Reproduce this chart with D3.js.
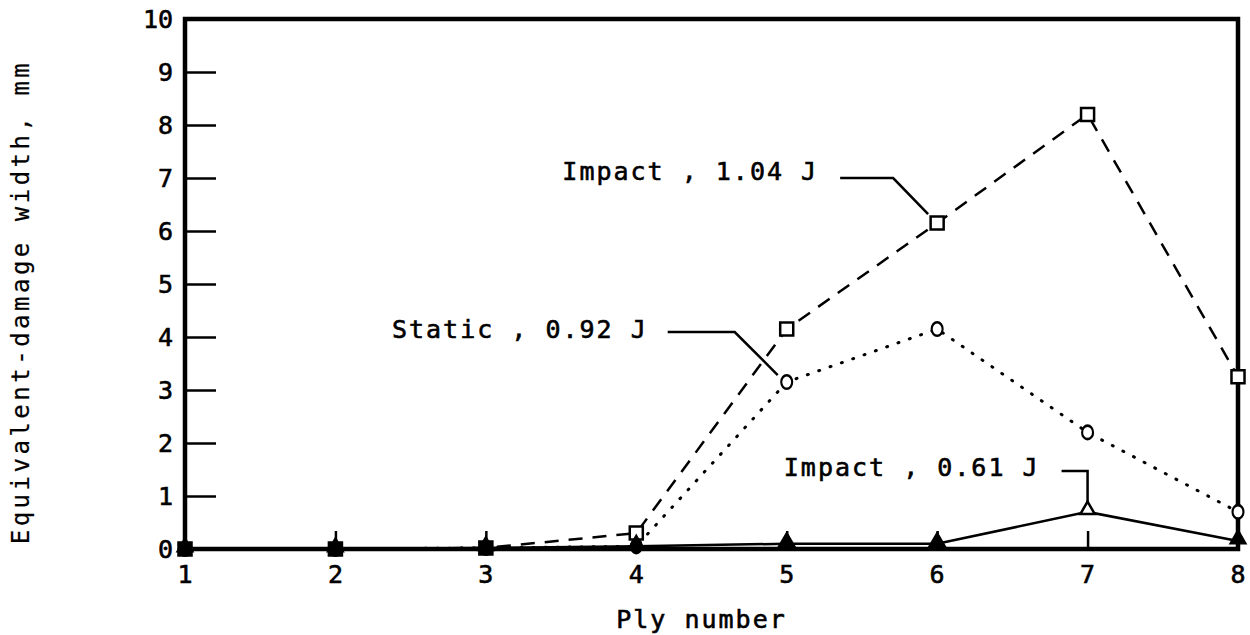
<!DOCTYPE html>
<html>
<head>
<meta charset="utf-8">
<script src="https://cdn.jsdelivr.net/npm/d3@7"></script>
<style>
  body { margin: 0; background: #fff; }
  text { font-family: "DejaVu Sans Mono", monospace; fill: #000; stroke: #000; stroke-width: 0.6px; }
</style>
</head>
<body>
<svg id="chart" width="1250" height="635"></svg>
<script>
// data
var plies = [1, 2, 3, 4, 5, 6, 7, 8];
var impact104 = [0, 0, 0.02, 0.3, 4.15, 6.15, 8.2, 3.25];
var static092 = [0, 0, 0.02, 0.05, 3.15, 4.15, 2.2, 0.7];
var impact061 = [0, 0, 0.02, 0.05, 0.1, 0.1, 0.7, 0.15];
var yTicks = [0, 1, 2, 3, 4, 5, 6, 7, 8, 9, 10];
var seriesNames = ["Impact , 1.04 J", "Static , 0.92 J", "Impact , 0.61 J"];

var svg = d3.select("#chart"),
    margin = {top: 19, right: 12, bottom: 86, left: 185},
    width = +svg.attr("width") - margin.left - margin.right,
    height = +svg.attr("height") - margin.top - margin.bottom;

var g = svg.append("g")
    .attr("transform", "translate(" + margin.left + "," + margin.top + ")");

var x = d3.scaleLinear().domain([1, 8]).range([0, width]);
var y = d3.scaleLinear().domain([0, 10]).range([height, 0]);

// frame
g.append("path")
    .attr("d", "M" + x(1) + "," + y(0) + "V" + y(10) + "H" + x(8) + "V" + y(0) + "Z")
    .attr("fill", "none")
    .attr("stroke", "#000")
    .attr("stroke-width", 4.5);

// y ticks point inward
var yAxis = g.append("g")
    .call(d3.axisRight(y).tickValues(yTicks.slice(1, 10)).tickSize(31).tickFormat(""));
yAxis.select(".domain").remove();
yAxis.selectAll("line").attr("stroke-width", 2.5);

var xAxis = g.append("g")
    .attr("transform", "translate(0," + height + ")")
    .call(d3.axisTop(x).tickValues(plies.slice(1, 7)).tickSize(18).tickFormat(""));
xAxis.select(".domain").remove();
xAxis.selectAll("line").attr("stroke-width", 2.5);

// tick labels
g.selectAll(".ylab")
    .data(yTicks)
    .enter().append("text")
    .attr("x", -12)
    .attr("y", d => y(d))
    .attr("dy", "0.36em")
    .attr("text-anchor", "end")
    .style("font-size", "25px")
    .text(d => d);

g.selectAll(".xlab")
    .data(plies)
    .enter().append("text")
    .attr("x", d => x(d))
    .attr("y", height + 25)
    .attr("dy", "0.36em")
    .attr("text-anchor", "middle")
    .style("font-size", "25px")
    .text(d => d);

// axis titles
g.append("text")
    .attr("x", x(4.5) - 10)
    .attr("y", height + 70)
    .attr("dy", "0.36em")
    .attr("text-anchor", "middle")
    .style("font-size", "25px")
    .style("letter-spacing", "2px")
    .text("Ply number");

svg.append("text")
    .attr("transform", "rotate(-90)")
    .attr("x", -302)
    .attr("y", 20)
    .attr("dy", "0.36em")
    .attr("text-anchor", "middle")
    .style("font-size", "24px")
    .style("letter-spacing", "3.5px")
    .style("stroke-width", "0.2px")
    .text("Equivalent-damage width, mm");

// series
var series = [
  {name: seriesNames[0], values: impact104, dash: "14,10", cap: "butt", width: 2.5, mark: "square"},
  {name: seriesNames[1], values: static092, dash: "1,11", cap: "round", width: 3, mark: "circle"},
  {name: seriesNames[2], values: impact061, dash: null, cap: "butt", width: 2.5, mark: "triangle"}
];

var line = d3.line()
    .x((d, i) => x(plies[i]))
    .y(d => y(d));

series.forEach(function (s) {
  g.append("path")
      .datum(s.values)
      .attr("d", line)
      .attr("fill", "none")
      .attr("stroke", "#000")
      .attr("stroke-width", s.width)
      .attr("stroke-linecap", s.cap)
      .attr("stroke-dasharray", s.dash);
});

var symbols = {square: d3.symbolSquare, circle: d3.symbolCircle, triangle: d3.symbolTriangle};
var symSize = {square: 170, circle: 130, triangle: 90};

series.forEach(function (s) {
  g.selectAll(null)
      .data(s.values)
      .enter().append("path")
      .attr("transform", (d, i) => "translate(" + x(plies[i]) + "," + (y(d) - (s.mark == "triangle" ? 2 : 0)) + ")" +
            (s.mark == "circle" ? " scale(0.85,1.05)" : ""))
      .attr("d", d3.symbol().type(symbols[s.mark]).size(symSize[s.mark]))
      .attr("fill", d => d < 0.2 ? "#000" : "#fff")
      .attr("stroke", "#000")
      .attr("stroke-width", 2.5);
});

// callouts: leader offsets relative to the marked point
var callouts = [
  {text: seriesNames[0], px: 6, py: impact104[5], pts: [[-97, -45], [-44, -45], [-9, -9]], tx: -119, ty: -52},
  {text: seriesNames[1], px: 5, py: static092[4], pts: [[-119, -50], [-52, -50], [-9, -7]], tx: -139, ty: -53},
  {text: seriesNames[2], px: 7, py: impact061[6], pts: [[-26, -41], [0, -41], [0, -9]], tx: -48, ty: -45}
];

callouts.forEach(function (c) {
  var cx = x(c.px), cy = y(c.py);
  g.append("path")
      .attr("d", d3.line()(c.pts.map(p => [cx + p[0], cy + p[1]])))
      .attr("fill", "none")
      .attr("stroke", "#000")
      .attr("stroke-width", 2.5);
  g.append("text")
      .attr("x", cx + c.tx)
      .attr("y", cy + c.ty)
      .attr("dy", "0.36em")
      .attr("text-anchor", "end")
      .style("font-size", "25px")
      .style("letter-spacing", "2px")
      .text(c.text);
});
</script>
</body>
</html>
